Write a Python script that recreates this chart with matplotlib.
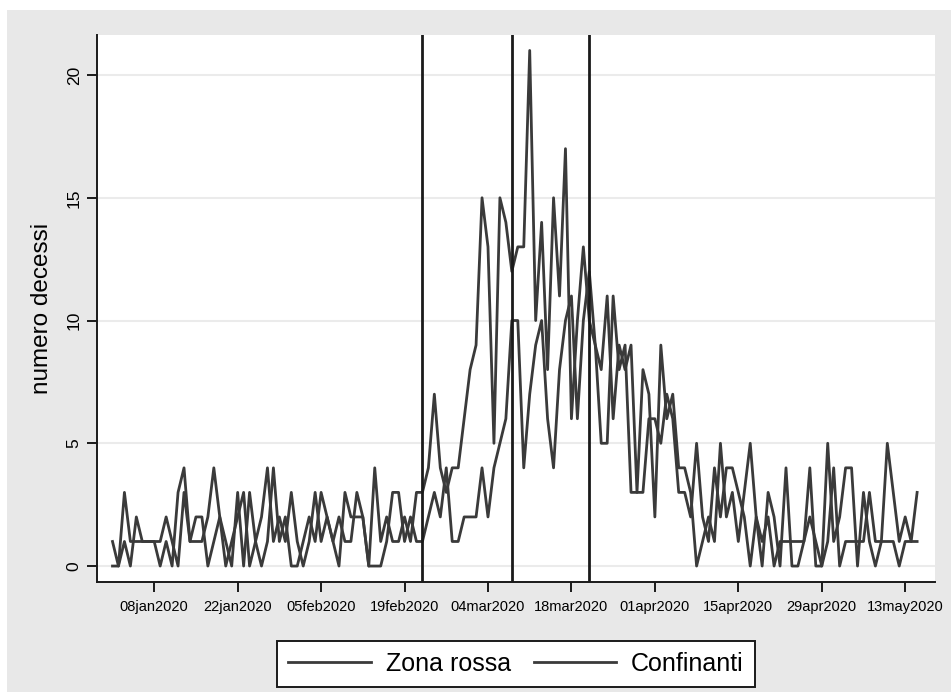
import numpy as np
import matplotlib
matplotlib.use("Agg")
import matplotlib.pyplot as plt
import matplotlib.dates as mdates
from matplotlib.patches import Rectangle
from matplotlib.ticker import FuncFormatter

plt.rcParams['font.family'] = ['Liberation Sans', 'DejaVu Sans']

# daily deaths, 01jan2020 .. 15may2020
dates = np.arange('2020-01-01', '2020-05-16', dtype='datetime64[D]')

zona_rossa = [
    1, 0, 3, 1, 1, 1, 1, 1, 0, 1, 0, 3, 4, 1, 1, 1, 2, 4, 2, 0,
    1, 2, 3, 0, 1, 2, 4, 1, 2, 1, 3, 1, 0, 1, 3, 1, 2, 1, 0, 3,
    2, 2, 2, 0, 4, 1, 2, 1, 1, 2, 1, 3,
    3, 4, 7, 4, 3, 4, 4, 6, 8, 9, 15, 13, 5, 15, 14, 12, 13, 13,
    21, 10, 14, 8, 15, 11, 17, 6, 10, 13, 10, 9, 8, 11, 6, 9,
    8, 9, 3, 8, 7, 2, 9, 6, 7, 4, 4, 3, 0, 1, 2, 1, 5, 2, 3, 1,
    3, 5, 2, 0, 3, 2, 0, 4, 0, 0, 1, 4, 0, 0, 5, 1, 2, 4, 4, 0,
    3, 1, 0, 1, 5, 3, 1, 2, 1, 3,
]
confinanti = [
    0, 0, 1, 0, 2, 1, 1, 1, 1, 2, 1, 0, 3, 1, 2, 2, 0, 1, 2, 1,
    0, 3, 0, 3, 1, 0, 1, 4, 1, 2, 0, 0, 1, 2, 1, 3, 2, 1, 2, 1,
    1, 3, 2, 0, 0, 0, 1, 3, 3, 1, 2, 1,
    1, 2, 3, 2, 4, 1, 1, 2, 2, 2, 4, 2, 4, 5, 6, 10, 10, 4,
    7, 9, 10, 6, 4, 8, 10, 11, 6, 10, 12, 9, 5, 5, 11, 8,
    9, 3, 3, 3, 6, 6, 5, 7, 6, 3, 3, 2, 5, 2, 1, 4, 2, 4, 4, 3,
    2, 0, 2, 1, 2, 0, 1, 1, 1, 1, 1, 2, 1, 0, 1, 4, 0, 1, 1, 1,
    1, 3, 1, 1, 1, 1, 0, 1, 1, 1,
]

events = ['2020-02-22', '2020-03-08', '2020-03-21']
tick_dates = np.arange('2020-01-08', '2020-05-14', 14, dtype='datetime64[D]')
yticks = [0, 5, 10, 15, 20]

fig = plt.figure(figsize=(9.51, 7.0), dpi=100, facecolor='white')
fig.patches.append(Rectangle((7 / 951, 1 - 692 / 700), 944 / 951, 682 / 700,
                             transform=fig.transFigure, facecolor='#e8e8e8',
                             edgecolor='none', zorder=-10))

ax = fig.add_axes([97 / 951, 1 - 582 / 700, 838 / 951, 547 / 700])
ax.set_facecolor('white')

x = mdates.date2num(dates)
ax.plot(x, zona_rossa, color='#3a3a3a', lw=2.0, label='Zona rossa')
ax.plot(x, confinanti, color='#3a3a3a', lw=2.0, label='Confinanti')
for e in events:
    ax.axvline(mdates.date2num(np.datetime64(e)), color='#1a1a1a', lw=2.0)

x0 = mdates.date2num(np.datetime64('2020-01-01'))
ax.set_xlim(x0 - 2.6, x0 + 138.0)
ax.set_ylim(-0.65, 21.63)

ax.set_yticks(yticks)
ax.yaxis.grid(True, color='#ebebeb', lw=1.5)
ax.set_axisbelow(True)
ax.set_xticks(mdates.date2num(tick_dates))
ax.xaxis.set_major_formatter(FuncFormatter(
    lambda v, p: mdates.num2date(v).strftime('%d%b%Y').lower()))

for s in ['top', 'right']:
    ax.spines[s].set_visible(False)
for s in ['left', 'bottom']:
    ax.spines[s].set_linewidth(1.4)
    ax.spines[s].set_color('#1a1a1a')

ax.tick_params(axis='both', length=7, width=1.4, color='#1a1a1a')
ax.tick_params(axis='x', labelsize=10.5, pad=6)
ax.tick_params(axis='y', labelsize=12.5, pad=4, labelrotation=90)
for lab in ax.get_yticklabels():
    lab.set_va('center')

ax.set_ylabel('numero decessi', fontsize=17.5, labelpad=10)

leg = fig.legend(loc='center', bbox_to_anchor=(516 / 951, 1 - 664 / 700), ncol=2,
                 fontsize=18, frameon=True, fancybox=False, edgecolor='#1a1a1a',
                 framealpha=1, handlelength=3.3, columnspacing=0.9,
                 handletextpad=0.6, borderpad=0.45)
leg.get_frame().set_linewidth(1.4)

fig.savefig('out.png', dpi=100, facecolor=fig.get_facecolor())
